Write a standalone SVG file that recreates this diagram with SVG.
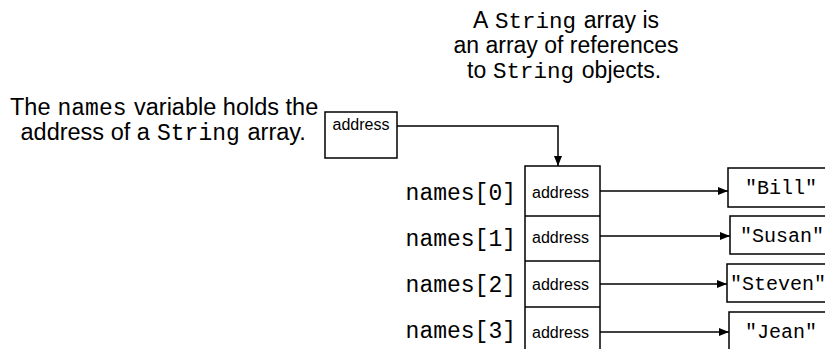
<svg xmlns="http://www.w3.org/2000/svg" width="825" height="349" viewBox="0 0 825 349">
<defs>
<marker id="ah" viewBox="0 0 10 8" refX="10" refY="4" markerWidth="10" markerHeight="8" markerUnits="userSpaceOnUse" orient="auto">
<path d="M0,0 L10,4 L0,8 Z" fill="#000"/>
</marker>
<style>
.top{font-family:"Liberation Sans",Arial,sans-serif;font-size:23px;fill:#000}
.topm{font-family:"Liberation Mono","Courier New",monospace;font-size:22.5px;fill:#000}
.left{font-family:"Liberation Sans",Arial,sans-serif;font-size:23.5px;fill:#000}
.leftm{font-family:"Liberation Mono","Courier New",monospace;font-size:23px;fill:#000}
.lbl{font-family:"Liberation Mono","Courier New",monospace;font-size:23px;fill:#000}
.cell{font-family:"Liberation Sans",Arial,sans-serif;font-size:16px;fill:#000}
.str{font-family:"Liberation Mono","Courier New",monospace;font-size:20px;fill:#000}
.box{fill:#fff;stroke:#000;stroke-width:1.5}
.ln{fill:none;stroke:#000;stroke-width:1.5}
</style>
</defs>
<rect width="825" height="349" fill="#fff"/>
<g id="caption-top">
<text class="top" x="473" y="28">A</text>
<text class="topm" x="495" y="28">String</text>
<text class="top" x="583.7" y="28">array is</text>
<text class="top" text-anchor="middle" x="566" y="53">an array of references</text>
<text class="top" x="467" y="78">to</text>
<text class="topm" x="493" y="78">String</text>
<text class="top" x="581.8" y="78">objects.</text>
</g>
<g id="caption-left">
<text class="left" x="10" y="115">The</text>
<text class="leftm" x="57.5" y="115">names</text>
<text class="left" x="134" y="115">variable holds the</text>
<text class="left" x="20.5" y="140">address of a</text>
<text class="leftm" x="157" y="140">String</text>
<text class="left" x="247.5" y="140">array.</text>
</g>
<g id="names-var">
<rect class="box" x="325" y="112" width="72" height="46"/>
<text class="cell" x="361" y="130" text-anchor="middle">address</text>
</g>
<g id="array">
<rect class="box" x="525" y="166" width="75" height="190"/>
<line class="ln" x1="525" y1="216" x2="600" y2="216"/>
<line class="ln" x1="525" y1="261" x2="600" y2="261"/>
<line class="ln" x1="525" y1="307" x2="600" y2="307"/>
<text class="cell" x="532" y="198">address</text>
<text class="cell" x="532" y="243">address</text>
<text class="cell" x="532" y="290">address</text>
<text class="cell" x="532" y="338">address</text>
<text class="lbl" x="516" y="200" text-anchor="end">names[0]</text>
<text class="lbl" x="516" y="246" text-anchor="end">names[1]</text>
<text class="lbl" x="516" y="292" text-anchor="end">names[2]</text>
<text class="lbl" x="516" y="338" text-anchor="end">names[3]</text>
</g>
<g id="str-bill">
<rect class="box" x="728" y="168" width="110" height="39"/>
<text class="str" x="781" y="194" text-anchor="middle">"Bill"</text>
</g>
<g id="str-susan">
<rect class="box" x="730" y="216" width="110" height="38"/>
<text class="str" x="782" y="242" text-anchor="middle">"Susan"</text>
</g>
<g id="str-steven">
<rect class="box" x="727" y="264" width="110" height="38"/>
<text class="str" x="778" y="290" text-anchor="middle">"Steven"</text>
</g>
<g id="str-jean">
<rect class="box" x="729" y="312" width="110" height="50"/>
<text class="str" x="781" y="338" text-anchor="middle">"Jean"</text>
</g>
<g id="connectors">
<polyline class="ln" points="397,126 558,126 558,166" marker-end="url(#ah)"/>
<line class="ln" x1="600" y1="191" x2="728" y2="191" marker-end="url(#ah)"/>
<line class="ln" x1="600" y1="236" x2="730" y2="236" marker-end="url(#ah)"/>
<line class="ln" x1="600" y1="284" x2="727" y2="284" marker-end="url(#ah)"/>
<line class="ln" x1="600" y1="332" x2="729" y2="332" marker-end="url(#ah)"/>
</g>
</svg>
